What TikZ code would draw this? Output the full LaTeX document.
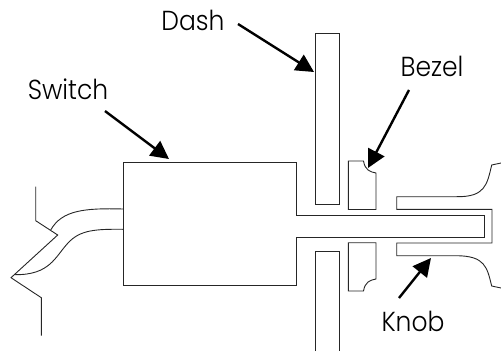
\documentclass[tikz,border=0pt]{standalone}
\usepackage{fontspec}
\setmainfont{Poppins Light}
\usetikzlibrary{arrows.meta}
\newcommand{\tallword}[1]{\scalebox{1}[1.1]{#1}}
\tikzset{
  part/.style={draw=black!85,line width=0.9pt,line join=miter},
  callout/.style={draw=black,line width=2.4pt,-{Triangle[length=18pt,width=18pt]}},
  partlabel/.style={inner sep=0pt,font=\fontsize{25}{28}\selectfont,text=black}
}
\begin{document}
\begin{tikzpicture}[x=1pt,y=-1pt]
\useasboundingbox (0,0) rectangle (501,351);
% dash
\draw[part] (315,204) -- (315,33) -- (339,33) -- (339,204) -- cycle;
\draw[part] (315,351) -- (315,251) -- (339,251) -- (339,351);
% switch with shaft
\draw[part] (296,215.7) -- (296,162) -- (123,162) -- (123,285) -- (296,285) -- (296,237.3) -- (484.7,237.3) -- (484.7,215.7) -- cycle;
% bezel
\draw[part] (348.3,161) -- (363.5,161) .. controls (365,170) and (370,172) .. (376,173) -- (376,209.5) -- (348.3,209.5) -- cycle;
\draw[part] (348.3,242.7) -- (376,242.7) -- (376,279) .. controls (370,280) and (365,282) .. (363.5,291) -- (348.3,291) -- cycle;
% knob
\draw[part] (501,163) -- (491.7,165) .. controls (487,185) and (485,197) .. (456.7,196.7) -- (396.7,196.7) -- (396.7,209.3) -- (492,209.3) -- (492,243) -- (396.7,243) -- (396.7,255.7) -- (456.7,255.7) .. controls (485,256) and (487,267) .. (491.7,286) -- (501,288);
% wall
\draw[part] (35.7,186.7) -- (35.7,220.7) -- (57.7,235) -- (11,277.7) -- (41.3,297.7) -- (41.3,335.7);
% wires
\draw[part] (123,209) .. controls (85,208) and (62,210) .. (50.7,230);
\draw[part] (123,229.3) .. controls (95,229) and (80,230) .. (68,243) .. controls (55,257) and (50,275) .. (15,274.7);
% labels
\node[partlabel] (dash) at (193,20) {\tallword{Dash}};
\node[partlabel] (switch) at (68,89) {\tallword{Switch}};
\node[partlabel] (bezel) at (432,66.5) {\tallword{Bezel}};
\node[partlabel] (knob) at (413,321) {\tallword{Knob}};
% callouts
\coordinate (dashA) at (238,24); \coordinate (dashB) at (314,72);
\coordinate (switchA) at (105,111); \coordinate (switchB) at (169,159);
\coordinate (bezelA) at (409,90); \coordinate (bezelB) at (368,168);
\coordinate (knobA) at (399,298); \coordinate (knobB) at (431,258);
\draw[callout] (dashA) -- (dashB);
\draw[callout] (switchA) -- (switchB);
\draw[callout] (bezelA) -- (bezelB);
\draw[callout] (knobA) -- (knobB);
\end{tikzpicture}
\end{document}
